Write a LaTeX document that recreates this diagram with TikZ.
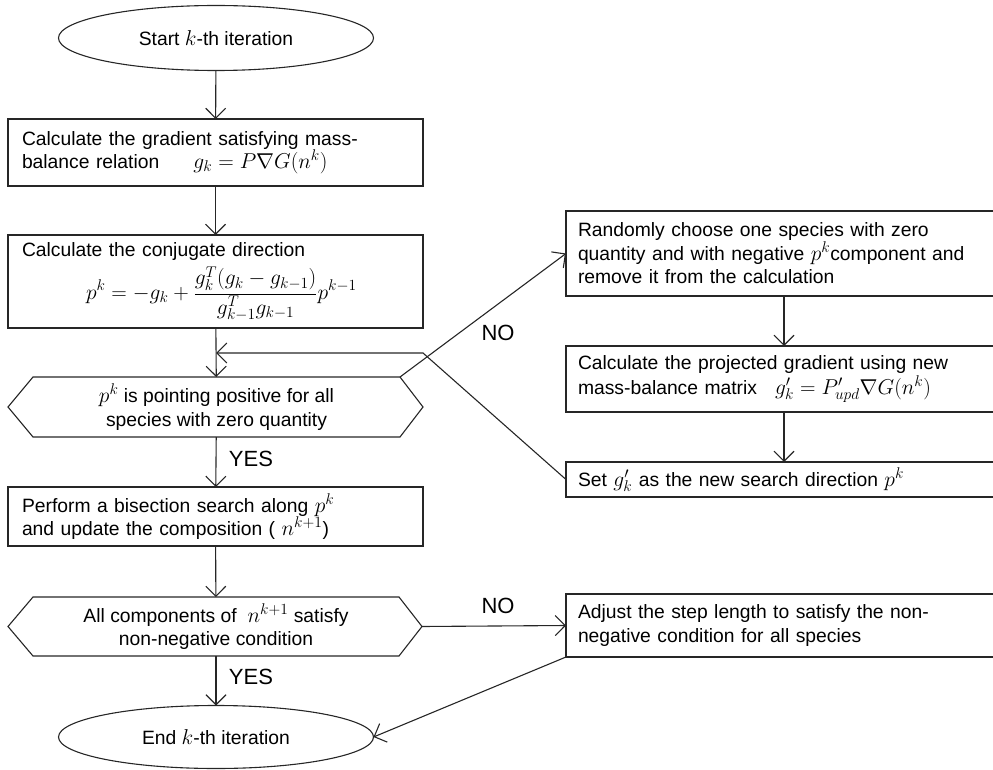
\RequirePackage{fix-cm}
\documentclass[tikz,border=0pt]{standalone}
\usepackage{fontspec}
\setmainfont{Liberation Sans}
\DeclareMathSizes{19.3}{21.5}{15.5}{11.5}
\usetikzlibrary{arrows.meta,shapes.geometric,calc}
\begin{document}
\begin{tikzpicture}[x=1pt,y=-1pt,
  font=\fontsize{19.3}{23.5}\selectfont,
  every node/.style={inner sep=0pt, outer sep=0pt},
  ln/.style={draw=black!85, line width=1.1pt},
  arr/.style={ln, -{Straight Barb[length=10pt,width=20pt,line width=1.1pt]}},
  box/.style={ln, rectangle, anchor=north west, align=left, inner xsep=14pt},
  rbox/.style={ln, rectangle, anchor=north west, align=left, inner xsep=12pt},
  oval/.style={ln, ellipse, minimum width=315pt, minimum height=65pt},
  hexin/.style={rectangle, align=center, minimum width=367pt, minimum height=60pt},
  lbl/.style={font=\fontsize{22}{24}\selectfont}
]
\useasboundingbox (0,0) rectangle (993,770);

% left column
\node[oval] (e1) at (216,38) {Start $k$-th iteration};
\node[box, minimum width=415pt, minimum height=67pt, text width=387pt] (b1) at (8,119)
  {Calculate the gradient satisfying mass-\\ balance relation\hspace{34pt}$g_k = P\nabla G(n^k)$};
\node[box, minimum width=415pt, minimum height=93pt, text width=387pt] (b2) at (8,235)
  {Calculate the conjugate direction\\[5pt]
   \hspace*{64pt}$\displaystyle p^k = -g_k + \frac{g_k^T(g_k-g_{k-1})}{g_{k-1}^T g_{k-1}}p^{k-1}$};
\node[hexin] (d1) at (216.5,407) {$p^k$ is pointing positive for all\\ species with zero quantity};
\node[box, minimum width=415pt, minimum height=59pt, text width=387pt] (b3) at (8,487)
  {Perform a bisection search along $p^k$\\ and update the composition ( $n^{k+1}$)};
\node[hexin, minimum width=366pt, minimum height=59pt] (d2) at (216,626.5) {All components of \ $n^{k+1}$ satisfy\\ non-negative condition};
\node[oval, minimum height=63pt] (e2) at (216,737) {End $k$-th iteration};

% hexagon outlines
\draw[ln] (d1.north west) -- (d1.north east) -- ($(d1.east)+(23,0)$) coordinate (d1r)
  -- (d1.south east) -- (d1.south west) -- ($(d1.west)+(-25,0)$) -- cycle;
\draw[ln] (d2.north west) -- (d2.north east) -- ($(d2.east)+(23,0)$) coordinate (d2r)
  -- (d2.south east) -- (d2.south west) -- ($(d2.west)+(-25,0)$) -- cycle;

% right column
\node[rbox, minimum width=440pt, minimum height=85pt, text width=416pt] (r1) at (566,211)
  {Randomly choose one species with zero\\ quantity and with negative $p^k$component and\\ remove it from the calculation};
\node[rbox, minimum width=440pt, minimum height=66pt, text width=416pt] (r2) at (566,346)
  {Calculate the projected gradient using new\\[1pt] mass-balance matrix\hspace{18pt}$g'_k = P'_{upd}\nabla G(n^k)$};
\node[rbox, minimum width=440pt, minimum height=35pt, text width=416pt] (r3) at (566,462)
  {Set $g'_k$ as the new search direction $p^k$};
\node[rbox, minimum width=440pt, minimum height=63pt, text width=416pt] (r4) at (566,594)
  {Adjust the step length to satisfy the non-\\ negative condition for all species};

% connectors
\draw[arr] (e1) -- (b1);
\draw[arr] (b1) -- (b2);
\draw[arr] (b2) -- (d1);
\draw[arr] (d1) -- (b3);
\draw[arr] (b3) -- (d2);
\draw[arr] (d2) -- (e2);
\draw[arr] (r1.south -| 784,0) -- (r2.north -| 784,0);
\draw[arr] (r2.south -| 784,0) -- (r3.north -| 784,0);
\coordinate (m1) at (216,353);
\coordinate (ret) at (423,353);
\draw[arr] (r3.west) -- (ret) -- (m1);
\draw[arr] (d1.north east) -- (r1.west);
\draw[arr] (d2r) -- (r4.west);
\draw[arr] (r4.south west) -- (e2.east);

% labels
\node[lbl] (no1) at (498,333) {NO};
\node[lbl] (no2) at (498,606) {NO};
\node[lbl] (yes1) at (251,459) {YES};
\node[lbl] (yes2) at (251,677) {YES};
\end{tikzpicture}
\end{document}
